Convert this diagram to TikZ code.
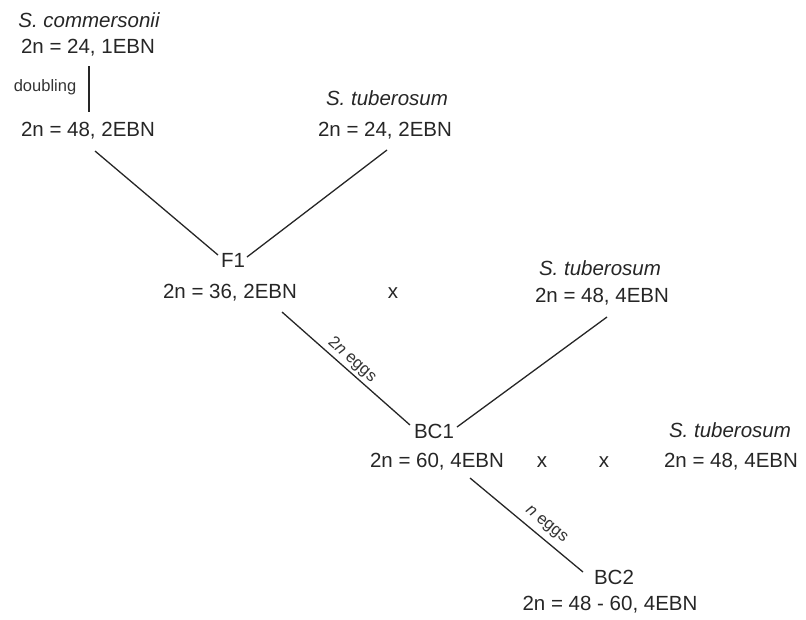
\documentclass[tikz,border=0pt]{standalone}
\usepackage{fontspec}
\setmainfont{Liberation Sans}
\usetikzlibrary{calc}
\begin{document}
\begin{tikzpicture}[x=1pt,y=-1pt,
  lbl/.style={font=\fontsize{20.5}{23}\selectfont, text=black!85, inner sep=0pt},
  small/.style={font=\fontsize{16.5}{18}\selectfont, text=black!80, inner sep=0pt},
  conn/.style={line width=1.3pt, draw=black!85}]
\useasboundingbox (0,0) rectangle (806,619);
\node[lbl] (sc) at (89,20) {\itshape S. commersonii};
\node[lbl] (c24) at (88,48) {2n = 24, 1EBN};
\node[small] (dbl) at (45,87) {doubling};
\node[lbl] (c48) at (88,131) {2n = 48, 2EBN};
\node[lbl] (st1) at (387,98) {\itshape S. tuberosum};
\node[lbl] (t24) at (385,131) {2n = 24, 2EBN};
\node[lbl] (f1) at (233,260) {F1};
\node[lbl] (f1d) at (230,293) {2n = 36, 2EBN};
\node[lbl] (x1) at (393,293) {x};
\node[lbl] (st2) at (600,268) {\itshape S. tuberosum};
\node[lbl] (t48a) at (602,297) {2n = 48, 4EBN};
\node[lbl] (bc1) at (434,431) {BC1};
\node[lbl] (bc1d) at (437,462) {2n = 60, 4EBN};
\node[lbl] (x2) at (542,462) {x};
\node[lbl] (x3) at (604,462) {x};
\node[lbl] (st3) at (730,430) {\itshape S. tuberosum};
\node[lbl] (t48b) at (731,462) {2n = 48, 4EBN};
\node[lbl] (bc2) at (614,577) {BC2};
\node[lbl] (bc2d) at (610,605) {2n = 48 - 60, 4EBN};
\node[small, rotate=-41.5] (e2n) at (352,360) {2\textit{n} eggs};
\node[small, rotate=-39] (en) at (546,525) {\textit{n} eggs};
\draw[conn] ($(c24)+(1,18)$) -- ($(c48)+(1,-19)$);
\draw[conn] ($(c48)+(7,20)$) -- ($(f1)+(-15,-5)$);
\draw[conn] ($(t24)+(2,19)$) -- ($(f1)+(14,-3)$);
\draw[conn] ($(f1d)+(52,19)$) -- ($(bc1)+(-24,-6)$);
\draw[conn] ($(t48a)+(5,20)$) -- ($(bc1)+(23,-4)$);
\draw[conn] ($(bc1d)+(33,16)$) -- ($(bc2)+(-31,-5)$);
\end{tikzpicture}
\end{document}
